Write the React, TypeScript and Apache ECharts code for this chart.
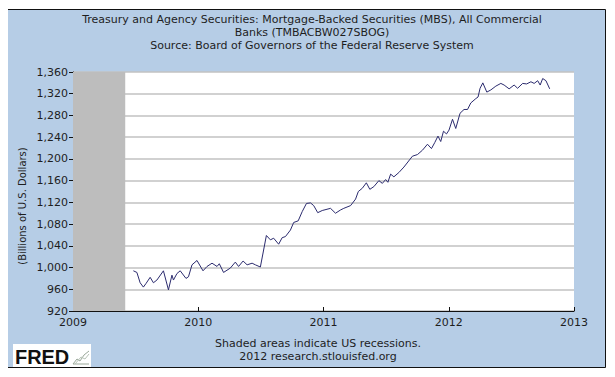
import React, { useEffect, useRef } from "react";
import * as echarts from "echarts";

const years: number[] = [
  2009.482, 2009.51, 2009.536, 2009.562, 2009.584, 2009.616, 2009.642, 2009.67, 2009.722, 2009.762,
  2009.79, 2009.802, 2009.83, 2009.856, 2009.902, 2009.922, 2009.95, 2009.99, 2010.038, 2010.07,
  2010.11, 2010.15, 2010.168, 2010.202, 2010.256, 2010.296, 2010.322, 2010.358, 2010.39, 2010.43,
  2010.456, 2010.496, 2010.544, 2010.576, 2010.602, 2010.642, 2010.67, 2010.696, 2010.736, 2010.762,
  2010.798, 2010.83, 2010.864, 2010.896, 2010.922, 2010.954, 2010.99, 2011.056, 2011.096, 2011.136,
  2011.162, 2011.216, 2011.256, 2011.278, 2011.31, 2011.342, 2011.37, 2011.402, 2011.442, 2011.47,
  2011.496, 2011.514, 2011.536, 2011.562, 2011.602, 2011.642, 2011.71, 2011.75, 2011.79, 2011.83,
  2011.862, 2011.888, 2011.914, 2011.936, 2011.958, 2011.982, 2012.002, 2012.03, 2012.056, 2012.09,
  2012.122, 2012.15, 2012.176, 2012.216, 2012.234, 2012.25, 2012.272, 2012.304, 2012.336, 2012.376,
  2012.416, 2012.442, 2012.482, 2012.522, 2012.55, 2012.59, 2012.622, 2012.656, 2012.682, 2012.71,
  2012.73, 2012.75, 2012.776, 2012.806,
];

// Billions of U.S. dollars
const values: number[] = [
  994, 991, 972, 964, 971, 982, 972, 977, 994, 959,
  986, 977, 989, 994, 980, 983, 1005, 1013, 994, 1002,
  1008, 1002, 1007, 991, 999, 1010, 1002, 1012, 1005, 1008,
  1005, 1001, 1059, 1051, 1054, 1043, 1055, 1057, 1069, 1083,
  1086, 1103, 1118, 1119, 1114, 1101, 1105, 1109, 1100, 1106,
  1109, 1114, 1126, 1140, 1146, 1156, 1144, 1149, 1160, 1155,
  1162, 1157, 1172, 1167, 1175, 1185, 1205, 1208, 1216, 1227,
  1219, 1230, 1242, 1232, 1251, 1246, 1253, 1273, 1256, 1284,
  1291, 1291, 1303, 1311, 1314, 1330, 1340, 1323, 1327, 1334,
  1339, 1336, 1329, 1336, 1330, 1339, 1338, 1342, 1339, 1344,
  1336, 1348, 1344, 1329,
];

const recession: [number, number] = [2009.0, 2009.417];

const titleLines: string[] = [
  "Treasury and Agency Securities: Mortgage-Backed Securities (MBS), All Commercial",
  "Banks (TMBACBW027SBOG)",
  "Source: Board of Governors of the Federal Reserve System",
];
const footerLines: string[] = [
  "Shaded areas indicate US recessions.",
  "2012 research.stlouisfed.org",
];
const yAxisTitle = "(Billions of U.S. Dollars)";

const FONT = "DejaVu Sans";
const TEXT = "#1e1e1e";

export default function App() {
  const ref = useRef<HTMLDivElement>(null);
  useEffect(() => {
    if (!ref.current) return;
    const chart = echarts.init(ref.current, null, { renderer: "svg" });
    const seriesData = years.map((y, i) => [y, values[i]]);
    chart.setOption({
      animation: false,
      backgroundColor: "#ffffff",
      grid: {
        left: 73,
        top: 72,
        right: 41,
        bottom: 66,
        show: true,
        backgroundColor: "#ffffff",
        borderWidth: 0,
      },
      graphic: [
        {
          type: "rect",
          z: -10,
          shape: { x: 7.5, y: 9.5, width: 598, height: 358 },
          style: { fill: "#b6cde6", stroke: "#111111", lineWidth: 1 },
        },
        ...titleLines.map((t, i) => ({
          type: "text",
          x: 312,
          y: 19 + i * 13,
          style: { text: t, font: `11px '${FONT}'`, fill: TEXT, align: "center", verticalAlign: "middle" },
        })),
        ...footerLines.map((t, i) => ({
          type: "text",
          x: 318,
          y: 343 + i * 13,
          style: { text: t, font: `11px '${FONT}'`, fill: TEXT, align: "center", verticalAlign: "middle" },
        })),
        {
          type: "text",
          x: 22,
          y: 206,
          rotation: Math.PI / 2,
          style: { text: yAxisTitle, font: `10px '${FONT}'`, fill: TEXT, align: "center", verticalAlign: "middle" },
        },
        {
          type: "rect",
          shape: { x: 13, y: 344, width: 78, height: 23 },
          style: { fill: "#ffffff" },
        },
        {
          type: "text",
          x: 15,
          y: 356,
          scaleX: 0.95,
          style: { text: "FRED", font: `bold 21px 'Liberation Sans'`, fill: "#111111", align: "left", verticalAlign: "middle" },
        },
        {
          type: "polyline",
          shape: { points: [[73, 364], [77, 359], [80, 361], [84, 355], [89, 351]] },
          style: { stroke: "#9aa89a", lineWidth: 1, fill: "none" },
        },
        {
          type: "polyline",
          shape: { points: [[73, 364], [89, 364]] },
          style: { stroke: "#9aa89a", lineWidth: 1, fill: "none" },
        },
        {
          type: "polyline",
          shape: { points: [[75, 364], [81, 357], [85, 359], [89, 354]] },
          style: { stroke: "#b8c4b8", lineWidth: 1, fill: "none" },
        },
      ],
      xAxis: {
        type: "value",
        min: 2009,
        max: 2013,
        interval: 1,
        axisLine: { show: true, onZero: false, lineStyle: { color: "#111111", width: 1 } },
        axisTick: { show: true, inside: true, length: 4, lineStyle: { color: "#111111" } },
        axisLabel: {
          formatter: (v: number) => String(Math.round(v)),
          color: TEXT,
          fontFamily: FONT,
          fontSize: 11,
          margin: 6,
        },
        splitLine: { show: false },
      },
      yAxis: {
        type: "value",
        min: 920,
        max: 1360,
        interval: 40,
        axisLine: { show: true, lineStyle: { color: "#111111", width: 1 } },
        axisTick: { show: true, inside: false, length: 4, lineStyle: { color: "#111111" } },
        axisLabel: {
          formatter: (v: number) => v.toLocaleString("en-US"),
          color: TEXT,
          fontFamily: FONT,
          fontSize: 11,
          margin: 5,
        },
        splitLine: { show: true, lineStyle: { color: "#c2c2c2", width: 1.5 } },
      },
      series: [
        {
          type: "line",
          data: seriesData,
          showSymbol: false,
          lineStyle: { color: "#2b2b6e", width: 1 },
          z: 3,
          markArea: {
            silent: true,
            itemStyle: { color: "#bdbdbd", opacity: 1 },
            data: [[{ xAxis: recession[0] }, { xAxis: recession[1] }]],
          },
        },
      ],
    });
    return () => chart.dispose();
  }, []);
  return <div ref={ref} style={{ width: 615, height: 377, margin: -8 }} />;
}
